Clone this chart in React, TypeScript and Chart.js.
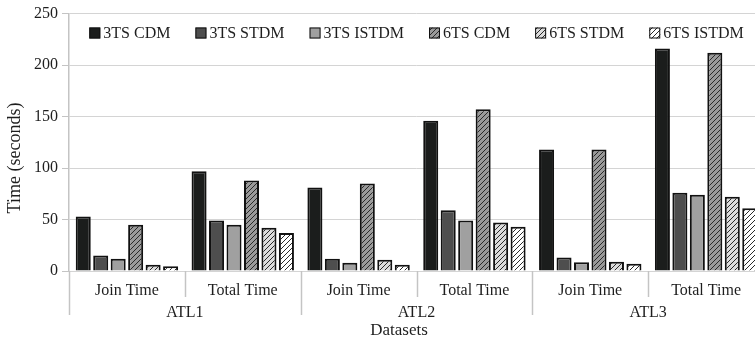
import React, { useEffect, useRef } from 'react';
import { Chart, registerables } from 'chart.js';

Chart.register(...registerables);

const categories = ['Join Time', 'Total Time', 'Join Time', 'Total Time', 'Join Time', 'Total Time'];
const groups = ['ATL1', 'ATL2', 'ATL3'];
const seriesNames = ['3TS CDM', '3TS STDM', '3TS ISTDM', '6TS CDM', '6TS STDM', '6TS ISTDM'];
const cdm3 = [53, 97, 81, 146, 118, 216];
const stdm3 = [15, 49, 12, 59, 13, 76];
const istdm3 = [12, 45, 8, 49, 8.5, 74];
const cdm6 = [45, 88, 85, 157, 118, 212];
const stdm6 = [6, 42, 11, 47, 9, 72];
const istdm6 = [4.5, 37, 6, 43, 7, 61];
const yMin = 0;
const yMax = 250;
const yStep = 50;
const yTitle = 'Time (seconds)';
const xTitle = 'Datasets';

const FONT = '"Liberation Serif", "Times New Roman", serif';
const TEXT = '#1e1e1e';
const GRID = '#d4d4d4';
const SEP = '#c4c4c4';

function hatch(bg: string): CanvasPattern | string {
  const s = 5;
  const c = document.createElement('canvas');
  c.width = s;
  c.height = s;
  const g = c.getContext('2d');
  if (!g) return bg;
  g.fillStyle = bg;
  g.fillRect(0, 0, s, s);
  g.strokeStyle = '#2a2a2a';
  g.lineWidth = 1;
  g.beginPath();
  g.moveTo(0, s);
  g.lineTo(s, 0);
  g.moveTo(-1, 1);
  g.lineTo(1, -1);
  g.moveTo(s - 1, s + 1);
  g.lineTo(s + 1, s - 1);
  g.stroke();
  return g.createPattern(c, 'repeat') || bg;
}

const separatorPlugin = {
  id: 'separators',
  afterDraw(chart: any) {
    const x = chart.scales.x;
    const area = chart.chartArea;
    const ctx = chart.ctx;
    ctx.save();
    ctx.strokeStyle = SEP;
    ctx.lineWidth = 1.5;
    for (let i = 0; i <= categories.length; i++) {
      const px = Math.round(x.getPixelForValue(i - 0.5)) + 0.5;
      const long = i % 2 === 0;
      ctx.beginPath();
      ctx.moveTo(px, area.bottom);
      ctx.lineTo(px, long ? area.bottom + 44 : area.bottom + 26);
      ctx.stroke();
    }
    ctx.restore();
  },
};

const titlesPlugin = {
  id: 'axisTitles',
  afterDraw(chart: any) {
    const ctx = chart.ctx;
    ctx.save();
    ctx.fillStyle = TEXT;
    ctx.textAlign = 'center';
    ctx.textBaseline = 'middle';
    ctx.font = `17px ${FONT}`;
    ctx.fillText(xTitle, 399, 331);
    ctx.translate(15, 158);
    ctx.rotate(-Math.PI / 2);
    ctx.font = `18px ${FONT}`;
    ctx.fillText(yTitle, 0, 0);
    ctx.restore();
  },
};

const legendPlugin = {
  id: 'innerLegend',
  afterDraw(chart: any) {
    const ctx = chart.ctx;
    const area = chart.chartArea;
    const box = 11;
    const gap = 3;
    const spacing = 25;
    ctx.save();
    ctx.font = `16px ${FONT}`;
    const items = chart.data.datasets.map((d: any) => ({
      label: d.label,
      fill: d.backgroundColor,
      w: box + gap + ctx.measureText(d.label).width,
    }));
    const total = items.reduce((a: number, it: any) => a + it.w, 0) + spacing * (items.length - 1);
    let cx = (area.left + area.right) / 2 - total / 2;
    const cy = 33;
    items.forEach((it: any) => {
      ctx.fillStyle = it.fill;
      ctx.fillRect(cx, cy - box / 2, box, box);
      ctx.strokeStyle = '#111';
      ctx.lineWidth = 1;
      ctx.strokeRect(cx + 0.5, cy - box / 2 + 0.5, box - 1, box - 1);
      ctx.fillStyle = TEXT;
      ctx.textBaseline = 'middle';
      ctx.textAlign = 'left';
      ctx.fillText(it.label, cx + box + gap, cy + 1);
      cx += it.w + spacing;
    });
    ctx.restore();
  },
};

export default function App() {
  const ref = useRef<HTMLCanvasElement>(null);

  useEffect(() => {
    if (!ref.current) return;
    const fills = ['#1b1d1c', '#4e4e4e', '#a0a0a0', hatch('#9a9a9a'), hatch('#dcdcdc'), hatch('#ffffff')];
    const values = [cdm3, stdm3, istdm3, cdm6, stdm6, istdm6];
    const chart = new Chart(ref.current, {
      type: 'bar',
      data: {
        labels: categories,
        datasets: seriesNames.map((name, i) => ({
          label: name,
          data: values[i],
          backgroundColor: fills[i] as any,
          borderColor: '#111111',
          borderWidth: 2,
          categoryPercentage: 0.905,
          barPercentage: 0.86,
        })),
      },
      options: {
        animation: false,
        responsive: true,
        maintainAspectRatio: false,
        layout: { padding: { top: 6, right: 6, bottom: 0, left: 0 } },
        plugins: {
          legend: { display: false },
          tooltip: { enabled: false },
        },
        scales: {
          x: {
            type: 'category',
            position: 'bottom',
            offset: true,
            grid: { drawOnChartArea: false, drawTicks: false },
            border: { display: true, color: GRID },
            ticks: { font: { family: FONT, size: 16 }, color: TEXT, padding: 10, autoSkip: false, maxRotation: 0 },
            afterFit: (s: any) => { s.height = 24; },
          },
          x2: {
            type: 'category',
            position: 'bottom',
            labels: groups,
            offset: true,
            grid: { display: false, drawTicks: false },
            border: { display: false },
            ticks: { font: { family: FONT, size: 16 }, color: TEXT, padding: 8, autoSkip: false, maxRotation: 0 },
            afterFit: (s: any) => { s.height = 43; },
          },
          y: {
            min: yMin,
            max: yMax,
            ticks: { stepSize: yStep, font: { family: FONT, size: 16 }, color: TEXT, padding: 4 },
            grid: { color: GRID, lineWidth: 1, drawTicks: true, tickLength: 7, tickColor: SEP },
            border: { display: true, color: SEP, width: 1.5 },
            afterFit: (s: any) => { s.width = 69; },
          },
        },
      },
      plugins: [separatorPlugin, legendPlugin, titlesPlugin],
    });
    return () => chart.destroy();
  }, []);

  return (
    <div style={{ position: 'fixed', left: 0, top: 0, width: 770, height: 338, background: '#fff' }}>
      <canvas ref={ref} />
    </div>
  );
}
